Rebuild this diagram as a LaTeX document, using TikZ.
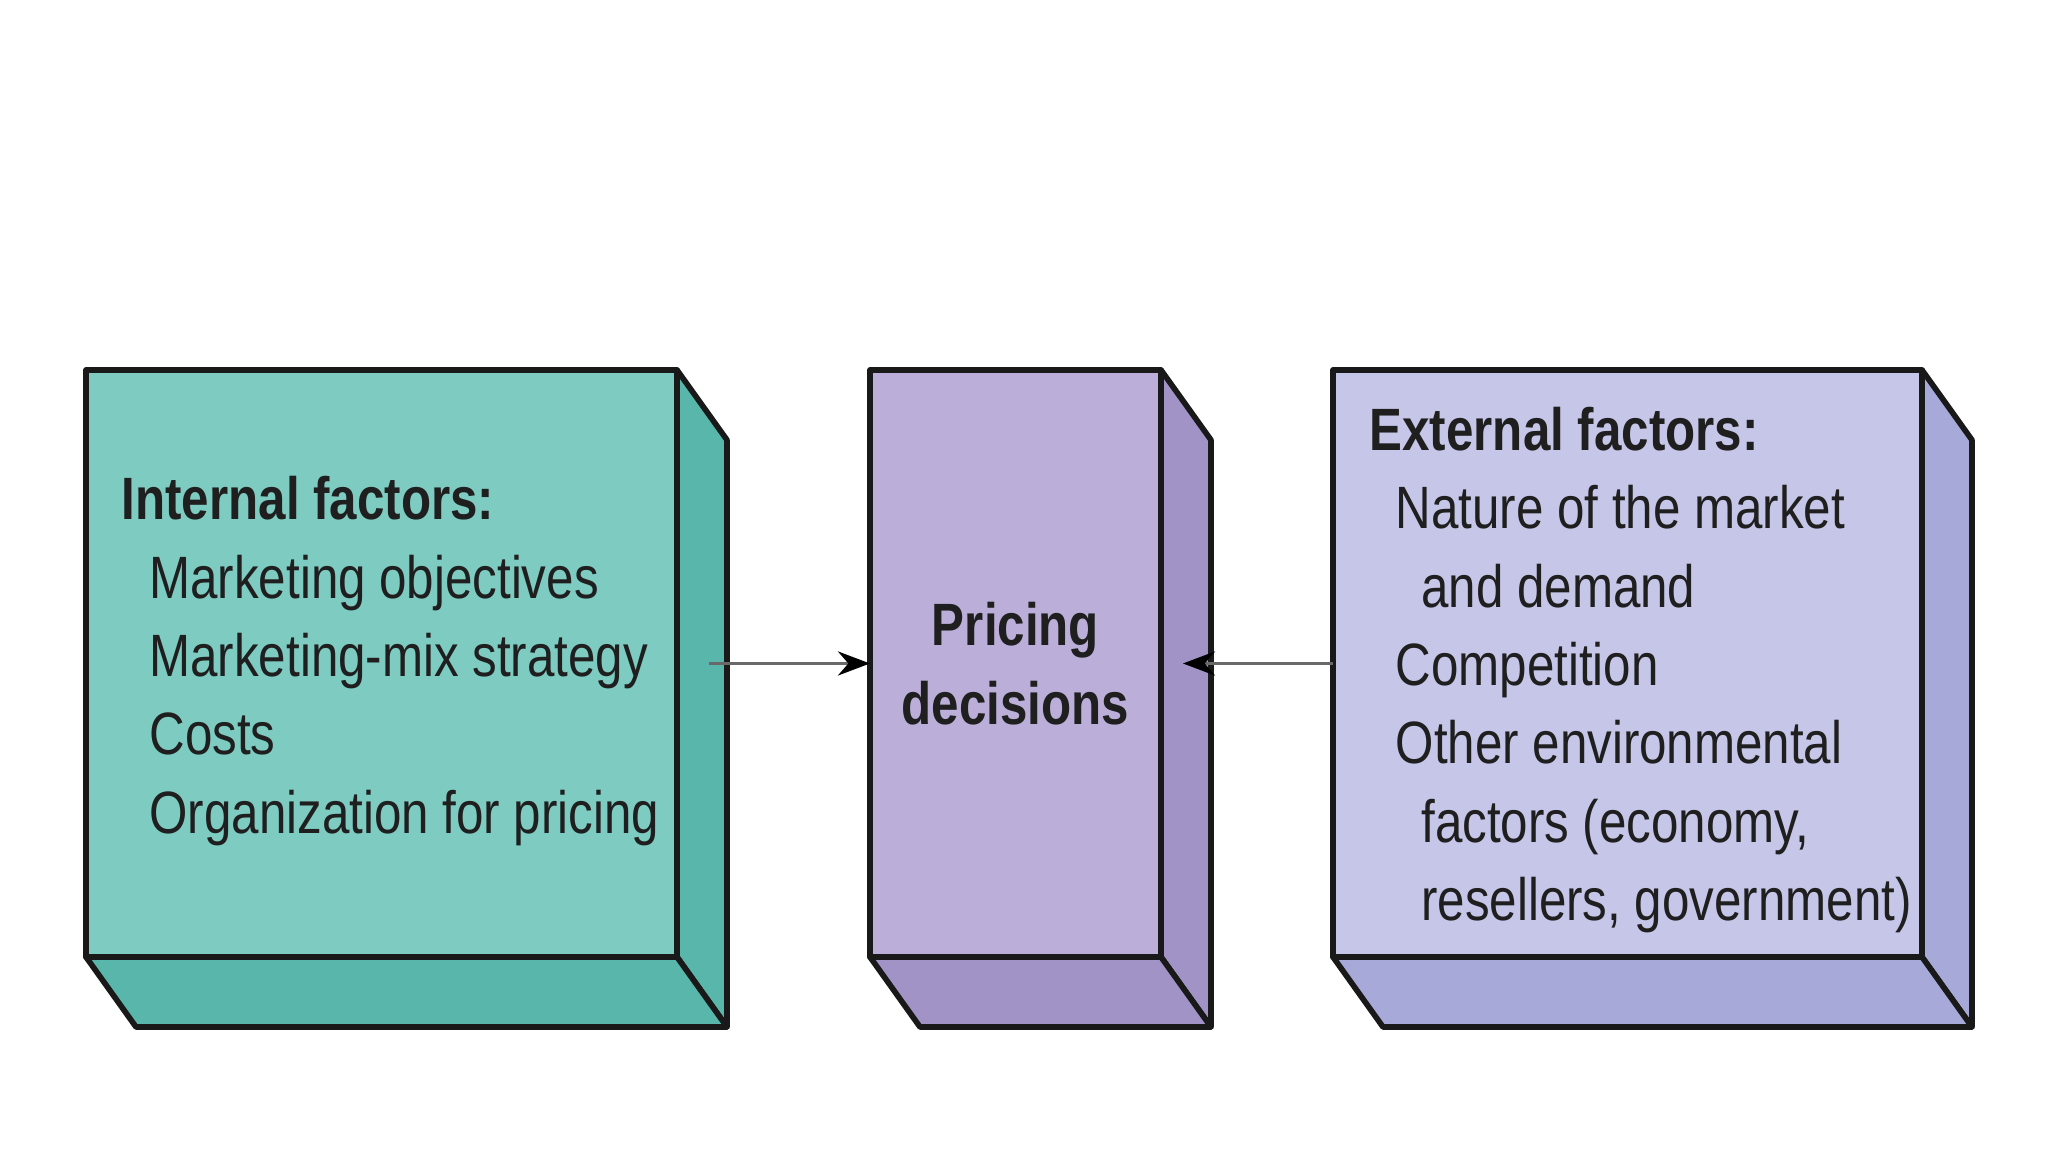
\documentclass[tikz,border=0pt]{standalone}
\usepackage{fontspec}
\setmainfont{Liberation Sans}[FakeStretch=0.825]
\usetikzlibrary{calc,positioning,arrows.meta}
\definecolor{intfront}{RGB}{125,203,193}
\definecolor{intside}{RGB}{88,182,170}
\definecolor{pricefront}{RGB}{187,174,216}
\definecolor{priceside}{RGB}{161,147,198}
\definecolor{extfront}{RGB}{197,198,232}
\definecolor{extside}{RGB}{167,169,216}
\definecolor{linkgray}{RGB}{105,105,105}
\tikzset{
  face/.style={draw=black!90, line width=1.6pt, line join=round, inner sep=0pt,
               outer sep=0pt, minimum height=5.87cm, anchor=north west},
  rim/.style={draw=black!90, line width=1.6pt, line join=round},
  flow/.style={draw=linkgray, line width=1.1pt,
               -{Stealth[length=3.2mm,width=2.4mm,color=black]}},
  boxtext/.style={font=\fontsize{17}{22.3}\selectfont, text=black!88,
                  align=left, inner sep=0pt},
}
\begin{document}
\begin{tikzpicture}
  \useasboundingbox (0,0) rectangle (20.48,11.52);
  \fill[white] (0,0) rectangle (20.48,11.52);
  % three blocks: front face, side and bottom
  \foreach \n/\xa/\w/\cf/\cs in {internal/0.86/5.91/intfront/intside,
      pricing/8.70/2.91/pricefront/priceside,
      external/13.33/5.89/extfront/extside}{
    \node[face, fill=\cf, minimum width=\w cm] (\n) at (\xa,7.82) {};
    \draw[rim, fill=\cs] (\n.north east) -- ++(0.5,-0.7)
      -- ($(\n.south east)+(0.5,-0.7)$) -- (\n.south east) -- cycle;
    \draw[rim, fill=\cs] (\n.south west) -- ++(0.5,-0.7)
      -- ($(\n.south east)+(0.5,-0.7)$) -- (\n.south east) -- cycle;
  }
  % texts
  \node[boxtext, anchor=west] (inttext) at (1.21,4.91)
    {\textbf{Internal factors:}\\
     \hspace*{7.9pt}Marketing objectives\\
     \hspace*{7.9pt}Marketing-mix strategy\\
     \hspace*{7.9pt}Costs\\
     \hspace*{7.9pt}Organization for pricing};
  \node[boxtext, align=center, font={\fontsize{17}{22.3}\selectfont\bfseries}]
    (pricetext) at (pricing) {Pricing\\decisions};
  \node[boxtext, anchor=west] (exttext) at (13.69,4.82)
    {\textbf{External factors:}\\
     \hspace*{7.4pt}Nature of the market\\
     \hspace*{14.7pt}and demand\\
     \hspace*{7.4pt}Competition\\
     \hspace*{7.4pt}Other environmental\\
     \hspace*{14.7pt}factors (economy,\\
     \hspace*{14.7pt}resellers, government)};
  % connectors
  \coordinate (intout) at ($(internal.east)+(0.32,0)$);
  \coordinate (pricein) at ($(pricing.east)+(0.22,0)$);
  \draw[flow] (intout) -- (pricing.west);
  \draw[flow] (external.west) -- (pricein);
\end{tikzpicture}
\end{document}
